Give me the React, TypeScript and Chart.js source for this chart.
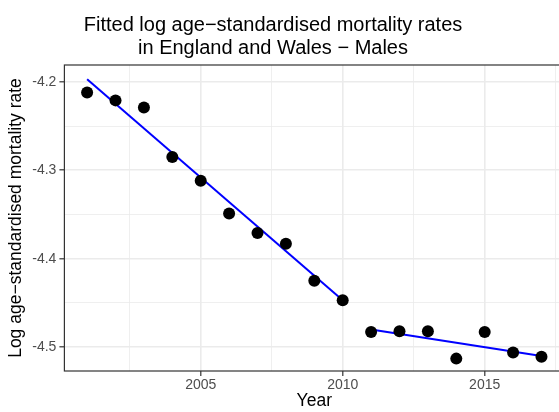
import React, { useEffect, useRef } from "react";
import { Chart, registerables } from "chart.js";

Chart.register(...registerables);

const years = [2001, 2002, 2003, 2004, 2005, 2006, 2007, 2008, 2009, 2010, 2011, 2012, 2013, 2014, 2015, 2016, 2017];
const rates = [-4.212, -4.221, -4.229, -4.285, -4.312, -4.349, -4.371, -4.383, -4.425, -4.447, -4.483, -4.482, -4.482, -4.513, -4.483, -4.506, -4.511];

const fitYears1 = [2001, 2010];
const fitRates1 = [-4.197, -4.447];
const fitYears2 = [2011, 2017];
const fitRates2 = [-4.48, -4.51];

const xTickValues = [2002.5, 2005, 2007.5, 2010, 2012.5, 2015, 2017.5];
const xTickLabels = ["", "2005", "", "2010", "", "2015", ""];
const yTickValues = [-4.5, -4.45, -4.4, -4.35, -4.3, -4.25, -4.2];
const yTickLabels = ["-4.5", "", "-4.4", "", "-4.3", "", "-4.2"];

const titleLines = ["Fitted log age\u2212standardised mortality rates", "in England and Wales \u2212 Males"];
const xTitle = "Year";
const yTitle = "Log age\u2212standardised mortality rate";

const FONT = "'Liberation Sans', Arial, sans-serif";
const CANVAS_W = 580;
const CANVAS_H = 412;

export default function App() {
  const ref = useRef<HTMLCanvasElement | null>(null);

  useEffect(() => {
    if (!ref.current) return;

    const titlePlugin = {
      id: "ggTitle",
      afterDraw(chart: any) {
        const ctx = chart.ctx;
        ctx.save();
        ctx.fillStyle = "#000000";
        ctx.font = `20px ${FONT}`;
        ctx.textAlign = "center";
        ctx.textBaseline = "alphabetic";
        ctx.fillText(titleLines[0], 273, 30.5);
        ctx.fillText(titleLines[1], 273, 53.5);
        ctx.restore();
      },
    };

    const borderPlugin = {
      id: "panelBorder",
      afterDatasetsDraw(chart: any) {
        const { ctx, chartArea } = chart;
        ctx.save();
        ctx.strokeStyle = "#333333";
        ctx.lineWidth = 1.2;
        ctx.strokeRect(chartArea.left, chartArea.top, chartArea.right - chartArea.left, chartArea.bottom - chartArea.top);
        ctx.restore();
      },
    };

    const isMajorX = (c: any) => xTickLabels[c.index] !== "" && xTickLabels[c.index] !== undefined;
    const isMajorY = (c: any) => yTickLabels[c.index] !== "" && yTickLabels[c.index] !== undefined;

    const chart = new Chart(ref.current, {
      type: "scatter",
      data: {
        datasets: [
          {
            label: "observed",
            data: years.map((y, i) => ({ x: y, y: rates[i] })),
            backgroundColor: "#000000",
            borderWidth: 0,
            pointRadius: 6,
            showLine: false,
            order: 0,
          },
          {
            label: "fit1",
            data: fitYears1.map((y, i) => ({ x: y, y: fitRates1[i] })),
            borderColor: "#0000FF",
            borderWidth: 2,
            pointRadius: 0,
            showLine: true,
            order: 1,
          },
          {
            label: "fit2",
            data: fitYears2.map((y, i) => ({ x: y, y: fitRates2[i] })),
            borderColor: "#0000FF",
            borderWidth: 2,
            pointRadius: 0,
            showLine: true,
            order: 1,
          },
        ],
      },
      options: {
        animation: false,
        responsive: false,
        layout: { padding: { top: 65, left: 0, right: CANVAS_W - 564.2, bottom: 0 } },
        plugins: { legend: { display: false }, tooltip: { enabled: false }, title: { display: false } },
        scales: {
          x: {
            type: "linear",
            min: 2000.2,
            max: 2017.8,
            afterFit: (s: any) => {
              s.height = 41;
            },
            afterBuildTicks: (s: any) => {
              s.ticks = xTickValues.map((v) => ({ value: v }));
            },
            ticks: {
              autoSkip: false,
              maxRotation: 0,
              padding: 1,
              color: "#4D4D4D",
              font: { family: FONT, size: 14 },
              callback: (_v: any, i: number) => xTickLabels[i],
            },
            grid: {
              color: "#EBEBEB",
              lineWidth: (c: any) => (isMajorX(c) ? 1.6 : 0.8),
              tickColor: (c: any) => (isMajorX(c) ? "#333333" : "rgba(0,0,0,0)"),
              tickLength: 5,
              tickWidth: 1.2,
              drawTicks: true,
            },
            border: { display: false },
            title: {
              display: true,
              text: xTitle,
              color: "#000000",
              font: { family: FONT, size: 17.5 },
              padding: { top: 0, bottom: 0 },
            },
          },
          y: {
            type: "linear",
            min: -4.527,
            max: -4.181,
            afterFit: (s: any) => {
              s.width = 64.4;
            },
            afterBuildTicks: (s: any) => {
              s.ticks = yTickValues.map((v) => ({ value: v }));
            },
            ticks: {
              autoSkip: false,
              padding: 3,
              color: "#4D4D4D",
              font: { family: FONT, size: 14 },
              callback: (_v: any, i: number) => yTickLabels[i],
            },
            grid: {
              color: "#EBEBEB",
              lineWidth: (c: any) => (isMajorY(c) ? 1.6 : 0.8),
              tickColor: (c: any) => (isMajorY(c) ? "#333333" : "rgba(0,0,0,0)"),
              tickLength: 5,
              tickWidth: 1.2,
              drawTicks: true,
            },
            border: { display: false },
            title: {
              display: true,
              text: yTitle,
              color: "#000000",
              font: { family: FONT, size: 17.5 },
              padding: { top: 6, bottom: 0 },
            },
          },
        },
      },
      plugins: [titlePlugin, borderPlugin],
    } as any);

    return () => chart.destroy();
  }, []);

  return (
    <div
      style={{
        position: "fixed",
        left: 0,
        top: 0,
        width: 559,
        height: 412,
        overflow: "hidden",
        background: "#ffffff",
      }}
    >
      <canvas ref={ref} width={CANVAS_W} height={CANVAS_H} style={{ display: "block", width: CANVAS_W, height: CANVAS_H }} />
    </div>
  );
}
